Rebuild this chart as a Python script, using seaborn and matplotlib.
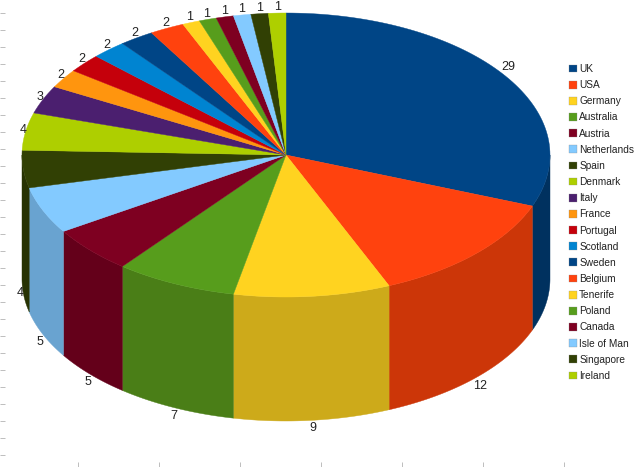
import numpy as np
import seaborn as sns
import matplotlib.pyplot as plt
from matplotlib.patches import Patch

countries = ['UK', 'USA', 'Germany', 'Australia', 'Austria', 'Netherlands', 'Spain',
             'Denmark', 'Italy', 'France', 'Portugal', 'Scotland', 'Sweden', 'Belgium',
             'Tenerife', 'Poland', 'Canada', 'Isle of Man', 'Singapore', 'Ireland']
visits = [29, 12, 9, 7, 5, 5, 4, 4, 3, 2, 2, 2, 2, 2, 1, 1, 1, 1, 1, 1]

base_colors = ['#004586', '#ff420e', '#ffd320', '#579d1c', '#7e0021', '#83caff',
               '#314004', '#aecf00', '#4b1f6f', '#ff950e', '#c5000b', '#0084d1']
side_colors = ['#00315f', '#cc3608', '#cdaa1a', '#4a7e17', '#64001a', '#69a3d0', '#273303']

left_ticks = list(range(13, 456, 17))
bottom_ticks = [78, 159, 240, 321, 402, 483, 564]

# pie geometry, in pixels of the picture
cx, cy = 286, 155
rx, ry = 264, 142
depth = 124

sns.set_theme(style='white')
plt.rcParams['font.family'] = ['Liberation Sans', 'DejaVu Sans']

palette = sns.color_palette(base_colors, n_colors=len(countries))

fig = plt.figure(figsize=(6.4, 4.67), dpi=100)
ax = fig.add_axes([0, 0, 1, 1])
ax.set_xlim(0, 640)
ax.set_ylim(467, 0)


def arc(start, stop, drop=0):
    t = np.radians(np.linspace(start, stop, 80))
    return cx + rx * np.sin(t), cy - ry * np.cos(t) + drop


edges = np.concatenate([[0], np.cumsum(visits)]) / sum(visits) * 360

# --- side walls, only the front half shows ---
for i, (a, b) in enumerate(zip(edges[:-1], edges[1:])):
    a2, b2 = max(a, 90), min(b, 270)
    if a2 >= b2:
        continue
    x1, y1 = arc(a2, b2)
    x2, y2 = arc(b2, a2, depth)
    col = side_colors[i]
    ax.fill(np.r_[x1, x2], np.r_[y1, y2], color=col, lw=0.3, zorder=2)

# --- top face ---
for i, (a, b) in enumerate(zip(edges[:-1], edges[1:])):
    x1, y1 = arc(a, b)
    ax.fill(np.r_[cx, x1], np.r_[cy, y1], color=palette[i], lw=0.3, zorder=3)

# --- value labels, offsets are screen pixels (y down) ---
for i, (a, b) in enumerate(zip(edges[:-1], edges[1:])):
    mid = (a + b) / 2
    x, y = arc(mid, mid)
    x, y = x[0], y[0]
    s, c = np.sin(np.radians(mid)), np.cos(np.radians(mid))
    dx = 6 * s if s > 0 else 3 * s
    if 90 < mid < 270:
        y += depth
        dy = max(0, min(8, (-c - 0.1) * 30))
    else:
        dy = -6 * c - 5 * max(s, 0)
    ax.annotate(str(visits[i]), (x, y), xytext=(dx * 0.72, -dy * 0.72),
                textcoords='offset points', ha='center', va='center',
                fontsize=9, color='#222222', zorder=5)

# --- stray tick marks along the picture edges ---
ax.set_xticks(bottom_ticks)
ax.set_yticks(left_ticks)
ax.set_xticklabels([])
ax.set_yticklabels([])
ax.tick_params(axis='both', which='major', direction='in', length=3.6, width=0.7,
               color='#bdbdbd', bottom=True, left=True)
for sp in ax.spines.values():
    sp.set_visible(False)

handles = [Patch(facecolor=palette[i], edgecolor='#888888', lw=0.2, label=countries[i])
           for i in range(len(countries))]
ax.legend(handles=handles, loc='upper left', bbox_to_anchor=(569 / 640, 1 - 64 / 467),
          frameon=False, fontsize=7.3, labelspacing=0.607, handlelength=0.8,
          handleheight=0.8, handletextpad=0.2, borderpad=0, borderaxespad=0,
          labelcolor='#222222')

fig.savefig('out.png', dpi=100, facecolor='white')
